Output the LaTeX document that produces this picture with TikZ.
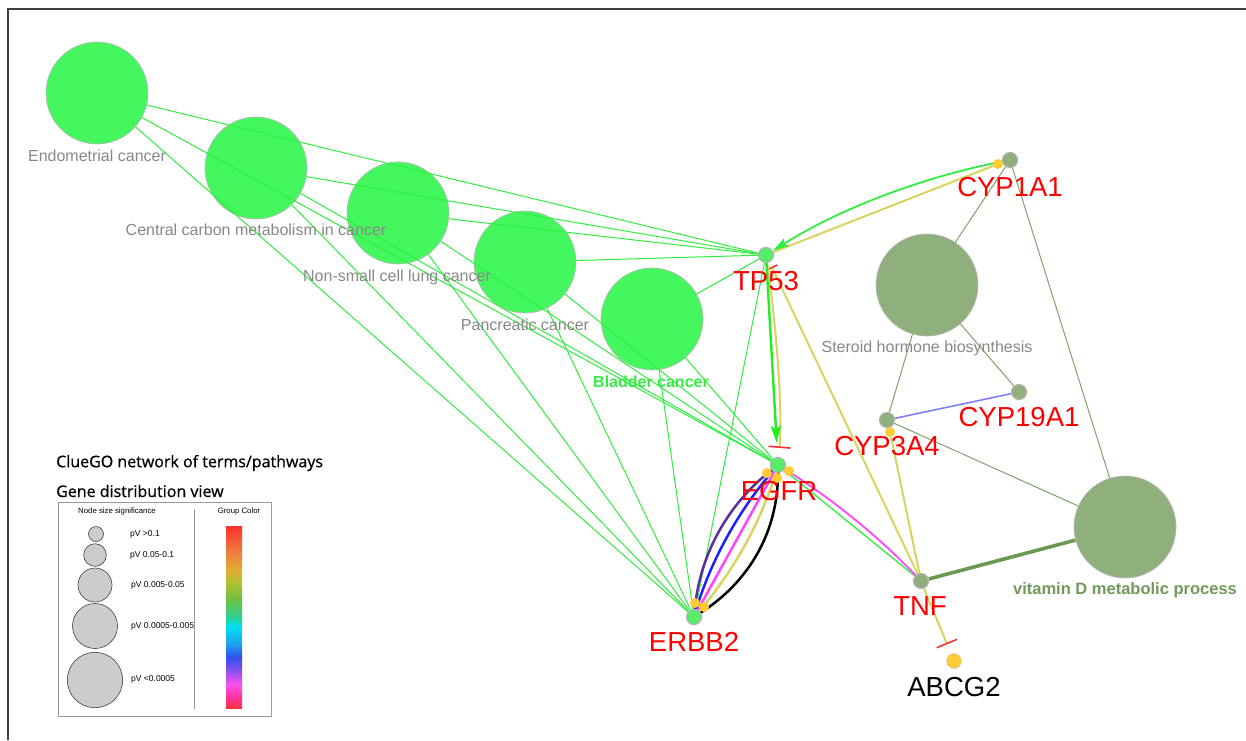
\documentclass[tikz,border=0pt]{standalone}
\usepackage{fontspec}
\setmainfont{Liberation Sans}
\newfontfamily\osans{Open Sans}[FakeBold=0.6]
\usetikzlibrary{arrows.meta,calc}
\definecolor{termgreen}{HTML}{45F75E}
\definecolor{edgegreen}{HTML}{30EE40}
\definecolor{arrgreen}{HTML}{22EE22}
\definecolor{ggreen}{HTML}{55EE66}
\definecolor{sage}{HTML}{8FAF7C}
\definecolor{sageline}{HTML}{7FA36A}
\definecolor{sagedark}{HTML}{6A9A52}
\definecolor{ylw}{HTML}{D9D35F}
\definecolor{golddot}{HTML}{FFCC33}
\definecolor{labgrey}{HTML}{888888}
\definecolor{vitlab}{HTML}{6F9A58}
\definecolor{bladlab}{HTML}{33EE44}
\definecolor{pviolet}{HTML}{5B2EA0}
\definecolor{pblue}{HTML}{2020FF}
\definecolor{pmag}{HTML}{FF44FF}
\definecolor{cblue}{HTML}{8080FF}
\definecolor{tbarred}{HTML}{FF3030}
\definecolor{rbA}{HTML}{FF3030}
\definecolor{rbB}{HTML}{F08040}
\definecolor{rbC}{HTML}{E0B030}
\definecolor{rbD}{HTML}{B8C030}
\definecolor{rbE}{HTML}{70C040}
\definecolor{rbF}{HTML}{30D090}
\definecolor{rbG}{HTML}{00E0F0}
\definecolor{rbH}{HTML}{20A0F0}
\definecolor{rbI}{HTML}{3050F0}
\definecolor{rbJ}{HTML}{9050F0}
\definecolor{rbK}{HTML}{FF50F0}
\definecolor{rbL}{HTML}{FF3090}
\definecolor{rbM}{HTML}{FF3040}
\pgfdeclareverticalshading{rainbowbar}{100bp}{color(0bp)=(rbM); color(25bp)=(rbM); color(27.5bp)=(rbL); color(31.5bp)=(rbK); color(35bp)=(rbJ); color(39bp)=(rbI); color(42.5bp)=(rbH); color(47.5bp)=(rbG); color(50bp)=(rbF); color(55bp)=(rbE); color(60bp)=(rbD); color(62.5bp)=(rbC); color(67.5bp)=(rbB); color(75bp)=(rbA); color(100bp)=(rbA)}
\tikzset{
  term/.style={circle, minimum size=102pt, inner sep=0pt, fill=termgreen, draw=gray!55, line width=0.7pt},
  sterm/.style={circle, minimum size=102pt, inner sep=0pt, fill=sage, draw=gray!55, line width=0.7pt},
  gene/.style={circle, minimum size=15pt, inner sep=0pt, draw=gray!60, line width=1.2pt},
  ydot/.style={circle, minimum size=10pt, inner sep=0pt, fill=golddot},
  tg/.style={draw=edgegreen, line width=1pt},
  sg/.style={draw=sageline, line width=1pt},
  yl/.style={draw=ylw, line width=2pt},
  tlab/.style={text=labgrey, font=\fontsize{16}{18}\selectfont, inner sep=0pt},
  glab/.style={text=red, font=\fontsize{27.5}{30}\selectfont, inner sep=0pt},
  tbar/.style={-{Bar[width=#1, line width=1.6pt, color=tbarred]}},
  legc/.style={circle, inner sep=0pt, fill=gray!40, draw=black!75, line width=0.6pt},
  legt/.style={anchor=west, font=\fontsize{8.5}{10}\selectfont, inner sep=0pt},
  legtitle/.style={anchor=west, inner sep=0pt, font=\osans\fontsize{16}{18}\selectfont},
}
\begin{document}
\begin{tikzpicture}[x=1pt,y=-1pt]
\useasboundingbox (0,0) rectangle (1246,740);
\fill[white] (0,0) rectangle (1246,740);
\draw[black!75, line width=1.2pt] (8,740) -- (8,9) -- (1246,9);

% term circles
\node[term] (endo) at (97,93) {};
\node[term] (ccm) at (256,168) {};
\node[term] (nsclc) at (398,213) {};
\node[term] (panc) at (525,262) {};
\node[term] (blad) at (652,319) {};
\node[sterm] (ster) at (927,285) {};
\node[sterm] (vitd) at (1125,527) {};

% gene nodes (named here, filled later on top of the edges)
\node[gene, draw=none] (tp53) at (766,255) {};
\node[gene, draw=none] (egfr) at (778,465) {};
\node[gene, draw=none] (erbb2) at (694,617) {};
\node[gene, draw=none] (cyp1a1) at (1010,160) {};
\node[gene, draw=none] (cyp19) at (1019,392) {};
\node[gene, draw=none] (cyp3a4) at (887,420) {};
\node[gene, draw=none] (tnf) at (921,581) {};
\node[gene, draw=none] (abcg2) at (954,661) {};
\node[ydot, fill=none] (cy1dot) at (998,164) {};
\node[ydot, fill=none] (cy3dot) at (890,432) {};

% term-gene edges
\foreach \t in {endo,ccm,nsclc,panc,blad}{
  \foreach \g in {tp53,egfr,erbb2}{
    \draw[tg] (\t) -- (\g);
  }
}
\draw[tg] (tp53) -- (erbb2);
\draw[tg, line width=1.3pt] (egfr) -- (tnf);

% sage edges
\draw[sg] (cyp1a1) -- (ster);
\draw[sg] (cyp1a1) -- (vitd);
\draw[sg] (ster) -- (cyp3a4);
\draw[sg] (ster) -- (cyp19);
\draw[sg] (cyp3a4) -- (vitd);
\draw[cblue, line width=1.6pt] (cyp3a4) -- (cyp19);
\draw[sagedark, line width=3.6pt] (tnf) -- (vitd);

% yellow interactions
\draw[yl] (cy1dot) -- (tp53);
\draw[yl] (cy3dot) -- (tnf);
\draw[yl, tbar=12pt, shorten >=5pt] (tnf) -- (tp53);
\draw[yl, tbar=22pt, shorten >=10pt] (tnf) -- (abcg2);
\draw[yl, tbar=22pt, shorten >=9pt] (tp53) .. controls +(9,60) and +(5,-60) .. (egfr);

% green arrows
\draw[arrgreen, line width=2.4pt, -{Stealth[length=17pt,width=10pt,inset=3pt]}, shorten >=14pt] (tp53) -- (egfr);
\draw[edgegreen, line width=1.8pt, -{Stealth[length=16pt,width=9pt,inset=3pt]}] (cyp1a1) .. controls +(-87,17) and +(75,-47) .. (tp53);

% EGFR - TNF magenta
\draw[pmag, line width=1.8pt] (egfr) .. controls +(53,33) and +(-43,-45) .. (tnf);

% EGFR - ERBB2 bundle
\draw[pviolet, line width=2.5pt] (erbb2) .. controls +(6,-63) and +(-50,39) .. (egfr);
\draw[pblue, line width=2.5pt] (erbb2) .. controls +(17,-57) and +(-39,45) .. (egfr);
\draw[pmag, line width=2.5pt] (erbb2) .. controls +(28,-51) and +(-28,51) .. (egfr);
\draw[ylw, line width=2.5pt] (erbb2) .. controls +(39,-45) and +(-17,57) .. (egfr);
\draw[black, line width=2.5pt] (erbb2) .. controls +(56,-36) and +(0,66) .. (egfr);

% gene nodes on top
\node[gene, fill=ggreen] at (tp53) {};
\node[gene, fill=ggreen] at (egfr) {};
\node[gene, fill=ggreen] at (erbb2) {};
\node[gene, fill=sage] at (cyp1a1) {};
\node[gene, fill=sage] at (cyp19) {};
\node[gene, fill=sage] at (cyp3a4) {};
\node[gene, fill=sage] at (tnf) {};
\node[circle, minimum size=15pt, inner sep=0pt, fill=golddot, draw=gray!40, line width=0.6pt] at (abcg2) {};
\node[ydot] at (cy1dot) {};
\node[ydot] at (cy3dot) {};
\node[ydot] (eg1) at (767,473) {};
\node[ydot] (eg2) at (777,478) {};
\node[ydot] (eg3) at (789,471) {};
\node[ydot] (eb1) at (695,603) {};
\node[ydot] (eb2) at (704,607) {};

% term labels
\node[tlab] (lendo) at (97,156) {Endometrial cancer};
\node[tlab] (lccm) at (256,230) {Central carbon metabolism in cancer};
\node[tlab] (lnsclc) at (397,277) {Non-small cell lung cancer};
\node[tlab] (lpanc) at (525,325) {Pancreatic cancer};
\node[tlab, text=bladlab, font=\bfseries\fontsize{16}{18}\selectfont] (lblad) at (651,382) {Bladder cancer};
\node[tlab] (lster) at (927,348) {Steroid hormone biosynthesis};
\node[tlab, text=vitlab, font=\bfseries\fontsize{16.5}{18}\selectfont] (lvitd) at (1125,590) {vitamin D metabolic process};

% gene labels
\node[glab] (ltp53) at (766,281) {TP53};
\node[glab] (legfr) at (779,491) {EGFR};
\node[glab] (lerbb2) at (694,642) {ERBB2};
\node[glab] (lcyp1a1) at (1010,187) {CYP1A1};
\node[glab] (lcyp19) at (1019,417) {CYP19A1};
\node[glab] (lcyp3a4) at (887,446) {CYP3A4};
\node[glab] (ltnf) at (920,606) {TNF};
\node[glab, text=black] (labcg2) at (954,687) {ABCG2};

% legend
\node[legtitle] (lt1) at (56,463) {ClueGO network of terms/pathways};
\node[legtitle] (lt2) at (56,491) {Gene distribution view};
\node[anchor=north west, draw=gray!80, line width=0.8pt, minimum width=213pt, minimum height=214pt, inner sep=0pt] (legbox) at (58,502) {};
\draw[gray!80, line width=0.7pt] (194,509) -- (194,709);
\node[inner sep=0pt, font=\fontsize{7.8}{9}\selectfont] (lns) at (117,511) {Node size significance};
\node[inner sep=0pt, font=\fontsize{7.8}{9}\selectfont] (lgc) at (239,511) {Group Color};
\shade[shading=rainbowbar] (226,526) rectangle (242,708);
\node[legc, minimum size=15pt] (c1) at (96,534) {};
\node[legc, minimum size=22.6pt] (c2) at (95,555) {};
\node[legc, minimum size=34pt] (c3) at (95,585) {};
\node[legc, minimum size=45pt] (c4) at (95,626) {};
\node[legc, minimum size=55.4pt] (c5) at (95,680) {};
\node[legt] at (130,534) {pV >0.1};
\node[legt] at (130,555) {pV 0.05-0.1};
\node[legt] at (131,585) {pV 0.005-0.05};
\node[legt] at (131,626) {pV 0.0005-0.005};
\node[legt] at (131,679) {pV <0.0005};
\end{tikzpicture}
\end{document}
